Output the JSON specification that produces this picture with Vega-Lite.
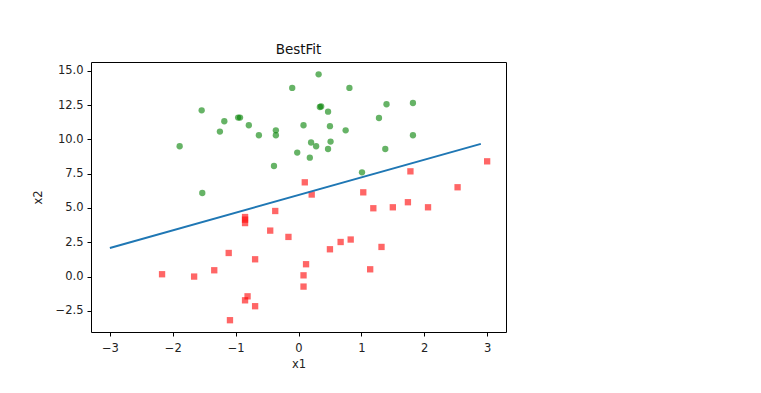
{
  "$schema": "https://vega.github.io/schema/vega-lite/v6.json",
  "autosize": "none",
  "padding": {"left": 91, "top": 62, "right": 255, "bottom": 61},
  "width": 415,
  "height": 270,
  "background": "white",
  "config": {
    "font": "DejaVu Sans",
    "view": {"stroke": "#000000", "strokeWidth": 1},
    "axis": {"grid": false, "domain": false, "tickColor": "#000", "tickSize": 4, "labelColor": "#222", "labelFontSize": 11.5, "labelFont": "DejaVu Sans", "titleFont": "DejaVu Sans", "titleFontSize": 11.5, "titleFontWeight": "normal", "titleColor": "#222", "labelOverlap": false, "labelBound": false, "labelFlush": false}
  },
  "title": {"text": "BestFit", "fontSize": 13.5, "fontWeight": "normal", "font": "DejaVu Sans", "color": "#111", "offset": 6},
  "datasets": {
    "pts": [
      {"x1": -0.10, "x2": 13.75, "label": "1"},
      {"x1": -1.54, "x2": 12.12, "label": "1"},
      {"x1": -1.18, "x2": 11.32, "label": "1"},
      {"x1": -0.96, "x2": 11.59, "label": "1"},
      {"x1": -0.93, "x2": 11.59, "label": "1"},
      {"x1": -0.79, "x2": 11.03, "label": "1"},
      {"x1": -1.25, "x2": 10.57, "label": "1"},
      {"x1": -0.63, "x2": 10.30, "label": "1"},
      {"x1": -0.36, "x2": 10.66, "label": "1"},
      {"x1": -0.36, "x2": 10.30, "label": "1"},
      {"x1": -1.89, "x2": 9.50, "label": "1"},
      {"x1": -0.02, "x2": 9.04, "label": "1"},
      {"x1": -0.39, "x2": 8.06, "label": "1"},
      {"x1": -1.53, "x2": 6.09, "label": "1"},
      {"x1": 0.32, "x2": 14.74, "label": "1"},
      {"x1": 0.81, "x2": 13.75, "label": "1"},
      {"x1": 0.34, "x2": 12.36, "label": "1"},
      {"x1": 0.36, "x2": 12.40, "label": "1"},
      {"x1": 0.47, "x2": 12.02, "label": "1"},
      {"x1": 1.40, "x2": 12.56, "label": "1"},
      {"x1": 1.82, "x2": 12.65, "label": "1"},
      {"x1": 1.28, "x2": 11.56, "label": "1"},
      {"x1": 0.08, "x2": 11.03, "label": "1"},
      {"x1": 0.50, "x2": 10.96, "label": "1"},
      {"x1": 0.75, "x2": 10.66, "label": "1"},
      {"x1": 0.20, "x2": 9.77, "label": "1"},
      {"x1": 0.28, "x2": 9.50, "label": "1"},
      {"x1": 0.51, "x2": 9.84, "label": "1"},
      {"x1": 0.47, "x2": 9.30, "label": "1"},
      {"x1": 0.18, "x2": 8.67, "label": "1"},
      {"x1": 1.82, "x2": 10.30, "label": "1"},
      {"x1": 1.38, "x2": 9.30, "label": "1"},
      {"x1": 1.01, "x2": 7.60, "label": "1"},
      {"x1": 0.10, "x2": 6.87, "label": "0"},
      {"x1": 0.21, "x2": 5.98, "label": "0"},
      {"x1": 1.03, "x2": 6.14, "label": "0"},
      {"x1": 1.78, "x2": 7.67, "label": "0"},
      {"x1": 3.00, "x2": 8.40, "label": "0"},
      {"x1": 2.53, "x2": 6.51, "label": "0"},
      {"x1": 1.19, "x2": 4.98, "label": "0"},
      {"x1": 1.50, "x2": 5.05, "label": "0"},
      {"x1": 1.74, "x2": 5.42, "label": "0"},
      {"x1": 2.06, "x2": 5.05, "label": "0"},
      {"x1": -0.16, "x2": 2.89, "label": "0"},
      {"x1": 0.50, "x2": 1.99, "label": "0"},
      {"x1": 0.67, "x2": 2.52, "label": "0"},
      {"x1": 0.83, "x2": 2.70, "label": "0"},
      {"x1": 1.32, "x2": 2.16, "label": "0"},
      {"x1": 1.14, "x2": 0.53, "label": "0"},
      {"x1": 0.12, "x2": 0.90, "label": "0"},
      {"x1": 0.08, "x2": 0.09, "label": "0"},
      {"x1": 0.08, "x2": -0.73, "label": "0"},
      {"x1": -0.37, "x2": 4.78, "label": "0"},
      {"x1": -0.85, "x2": 4.34, "label": "0"},
      {"x1": -0.85, "x2": 4.15, "label": "0"},
      {"x1": -0.85, "x2": 3.90, "label": "0"},
      {"x1": -0.45, "x2": 3.35, "label": "0"},
      {"x1": -1.11, "x2": 1.72, "label": "0"},
      {"x1": -0.69, "x2": 1.26, "label": "0"},
      {"x1": -1.34, "x2": 0.46, "label": "0"},
      {"x1": -1.66, "x2": 0.00, "label": "0"},
      {"x1": -2.17, "x2": 0.17, "label": "0"},
      {"x1": -0.81, "x2": -1.44, "label": "0"},
      {"x1": -0.85, "x2": -1.73, "label": "0"},
      {"x1": -0.69, "x2": -2.16, "label": "0"},
      {"x1": -1.09, "x2": -3.18, "label": "0"}
    ],
    "fit": [
      {"x1": -3.0, "x2": 2.08},
      {"x1": 2.9, "x2": 9.67}
    ]
  },
  "encoding": {
    "x": {"field": "x1", "type": "quantitative", "scale": {"domain": [-3.3, 3.3], "nice": false, "zero": false}, "axis": {"values": [-3, -2, -1, 0, 1, 2, 3], "title": "x1", "format": "d", "labelPadding": 6, "titlePadding": 5}},
    "y": {"field": "x2", "type": "quantitative", "scale": {"domain": [-4.04, 15.64], "nice": false, "zero": false}, "axis": {"values": [-2.5, 0, 2.5, 5, 7.5, 10, 12.5, 15], "tickCount": 8, "title": "x2", "format": ".1f", "labelPadding": 4, "titlePadding": 12}}
  },
  "layer": [
    {
      "data": {"name": "pts"},
      "mark": {"type": "point", "filled": true, "opacity": 0.6, "size": 40},
      "encoding": {
        "color": {"field": "label", "type": "nominal", "scale": {"domain": ["1", "0"], "range": ["#008000", "#ff0000"]}, "legend": null},
        "shape": {"field": "label", "type": "nominal", "scale": {"domain": ["1", "0"], "range": ["circle", "square"]}, "legend": null}
      }
    },
    {
      "data": {"name": "fit"},
      "mark": {"type": "line", "color": "#1f77b4", "strokeWidth": 2}
    }
  ]
}
